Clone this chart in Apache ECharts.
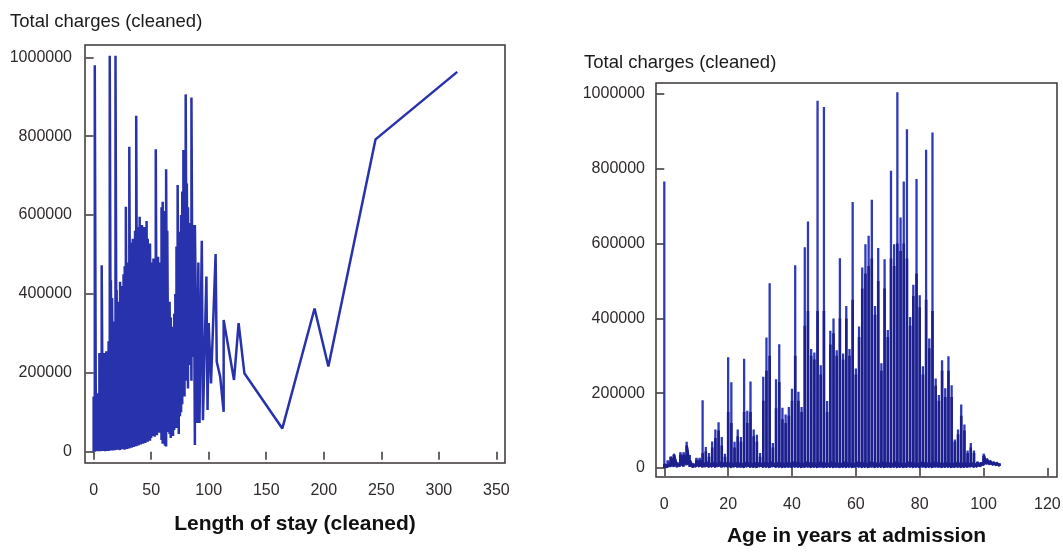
<!DOCTYPE html>
<html>
<head>
<meta charset="utf-8">
<script src="https://cdn.jsdelivr.net/npm/echarts@6/dist/echarts.min.js"></script>
<style>
  html, body { margin: 0; padding: 0; background: #ffffff; }
  #chart { width: 1063px; height: 552px; }
</style>
</head>
<body>
<div id="chart"></div>
<script>
// ---- Length of stay vs total charges: per-day low / high charges (days 0-88) ----
const stayDays = [0,1,2,3,4,5,6,7,8,9,10,11,12,13,14,15,16,17,18,19,20,21,22,23,24,25,26,27,28,29,
  30,31,32,33,34,35,36,37,38,39,40,41,42,43,44,45,46,47,48,49,50,51,52,53,54,55,56,57,58,59,
  60,61,62,63,64,65,66,67,68,69,70,71,72,73,74,75,76,77,78,79,80,81,82,83,84,85,86,87,88];
const stayHigh = [140000,980000,150000,148000,120000,250000,240000,473000,240000,250000,
  245000,255000,250000,280000,1004000,435000,390000,300000,330000,1004000,
  410000,350000,380000,431000,400000,420000,450000,470000,621000,480000,
  480000,773000,500000,530000,540000,520000,560000,852000,550000,570000,
  596000,560000,575000,540000,570000,555000,585000,540000,510000,528000,
  480000,470000,490000,460000,767000,450000,494000,440000,480000,620000,
  634000,600000,610000,716000,560000,376000,380000,340000,317000,300000,
  350000,400000,520000,676000,520000,558000,600000,660000,765000,700000,
  906000,680000,620000,580000,560000,898000,560000,575000,575000];
const stayLow = [0,0,1000,2000,1000,2000,1000,2000,3000,2000,
  1000,2000,3000,2000,3000,3000,4000,3000,5000,4000,
  6000,5000,7000,4000,8000,6000,9000,5000,10000,7000,
  12000,8000,14000,10000,16000,12000,18000,14000,20000,16000,
  22000,18000,25000,20000,28000,22000,30000,25000,32000,28000,
  35000,40000,45000,38000,50000,42000,55000,48000,60000,30000,
  20000,25000,15000,13000,50000,60000,45000,35000,50000,40000,
  55000,70000,60000,80000,45000,90000,100000,120000,150000,140000,
  180000,200000,160000,220000,250000,180000,270000,240000,17000];
// Long stays, in record order
const tailDays =    [90,91,92,94,95,98,99,100,102,106,107,110,113,113,122,126,131,164,192,204,245,316];
const tailCharges = [73000,480000,73000,535000,80000,444000,106000,326000,173000,501000,228000,190000,101000,334000,182000,326000,199000,59000,363000,216000,792000,963000];

// ---- Age at admission vs total charges ----
const ages = [0,1,2,3,4,5,6,7,8,9,10,11,12,13,14,15,16,17,18,19,20,21,22,23,24,25,26,27,28,29,
  30,31,32,33,34,35,36,37,38,39,40,41,42,43,44,45,46,47,48,49,50,51,52,53,54,55,56,57,58,59,
  60,61,62,63,64,65,66,67,68,69,70,71,72,73,74,75,76,77,78,79,80,81,82,83,84,85,86,87,88,89,
  90,91,92,93,94,95,96,97,98,99,100,101,102,103,104,105];
const ageMax = [766000,20000,30000,38000,15000,42000,42000,70000,35000,12000,
  27000,27000,181000,56000,40000,71000,103000,122000,83000,38000,
  296000,229000,70000,103000,83000,292000,153000,231000,103000,89000,
  40000,244000,349000,494000,67000,237000,331000,161000,143000,163000,
  212000,542000,204000,163000,590000,659000,318000,309000,982000,275000,
  965000,179000,367000,400000,315000,561000,306000,433000,318000,711000,
  266000,378000,536000,598000,621000,717000,433000,588000,280000,558000,
  369000,795000,598000,1005000,670000,766000,906000,404000,490000,773000,
  462000,272000,851000,346000,897000,239000,195000,288000,213000,299000,
  221000,76000,103000,170000,116000,47000,67000,47000,17000,10000,
  38000,25000,20000,17000,15000,13000];
const ageBulk = [10000,10000,20000,25000,10000,35000,35000,50000,20000,8000,
  20000,20000,40000,45000,30000,55000,80000,100000,60000,30000,
  150000,120000,55000,85000,70000,150000,120000,150000,85000,70000,
  30000,180000,260000,300000,55000,160000,230000,130000,120000,140000,
  180000,300000,180000,150000,380000,420000,300000,290000,420000,250000,
  420000,150000,330000,360000,300000,400000,290000,400000,300000,450000,
  250000,350000,480000,520000,540000,560000,410000,500000,260000,480000,
  350000,560000,540000,600000,580000,600000,560000,380000,460000,520000,
  430000,250000,450000,320000,420000,220000,180000,260000,190000,260000,
  190000,70000,90000,140000,100000,40000,55000,40000,14000,9000,
  32000,22000,18000,15000,13000,11000];
const ageLow = [0,2000,4000,3000,2000,5000,4000,8000,3000,1000,
  4000,3000,2000,3000,2000,3000,2000,4000,2000,3000,
  2000,1000,3000,2000,2000,1000,3000,2000,2000,1000,
  3000,2000,2000,1000,3000,2000,2000,1000,2000,2000,
  1000,2000,2000,1000,2000,2000,1000,2000,1000,2000,
  1000,2000,2000,1000,2000,1000,2000,1000,2000,1000,
  2000,2000,1000,2000,1000,2000,1000,2000,2000,1000,
  2000,1000,2000,1000,2000,1000,2000,2000,1000,2000,
  1000,2000,1000,2000,1000,2000,2000,1000,2000,2000,
  1000,2000,2000,1000,2000,2000,3000,2000,3000,4000,
  8000,10000,9000,8000,7000,6000];
const ageEnd = [8000,15000,30000,35000,10000,40000,40000,60000,20000,8000,
  25000,22000,15000,18000,14000,16000,14000,18000,15000,16000,
  15000,14000,16000,15000,14000,16000,15000,14000,16000,15000,
  14000,16000,15000,18000,14000,16000,15000,14000,16000,15000,
  18000,16000,15000,14000,18000,16000,15000,14000,18000,16000,
  15000,14000,18000,16000,15000,14000,18000,16000,15000,14000,
  18000,16000,15000,14000,18000,16000,15000,14000,18000,16000,
  15000,14000,18000,16000,15000,14000,18000,16000,15000,14000,
  18000,16000,15000,14000,18000,16000,15000,14000,16000,15000,
  14000,16000,15000,14000,16000,14000,15000,12000,12000,14000,
  34000,24000,19000,16000,14000,12000];

// Axis tick values
const chargeTicks = [0, 200000, 400000, 600000, 800000, 1000000];
const stayTicks = [0, 50, 100, 150, 200, 250, 300, 350];
const ageTicks = [0, 20, 40, 60, 80, 100, 120];

// Records in plot order: each day/age runs low -> high before moving on
const stayPoints = [];
stayDays.forEach((d, i) => { stayPoints.push([d, stayLow[i]], [d, stayHigh[i]]); });
tailDays.forEach((d, i) => { stayPoints.push([d, tailCharges[i]]); });

const agePoints = [];
const ageBulkPoints = [];
ages.forEach((a, i) => {
  agePoints.push([a, ageLow[i]], [a, ageMax[i]], [a, ageEnd[i]]);
  ageBulkPoints.push([a, ageLow[i]], [a, ageBulk[i]], [a, ageEnd[i]]);
});

const FONT = '"Liberation Sans", Arial, sans-serif';
const frameColor = '#3a3434';
const labelColor = '#2f2a2c';

function valueAxis(gridIndex, min, max, ticks, margin, extra) {
  return Object.assign({
    type: 'value', gridIndex, min, max,
    splitLine: { show: false },
    axisLine: { show: false },
    axisTick: { show: true, inside: false, length: 8, customValues: ticks,
      lineStyle: { color: frameColor, width: 1.5 } },
    axisLabel: { customValues: ticks, color: labelColor, fontFamily: FONT, fontSize: 16,
      margin: margin, formatter: v => String(Math.round(v)) }
  }, extra);
}

const chart = echarts.init(document.getElementById('chart'), null, { renderer: 'canvas' });
chart.setOption({
  animation: false,
  backgroundColor: '#ffffff',
  graphic: [
    { type: 'text', left: 10, top: 12,
      style: { text: 'Total charges (cleaned)', font: '18.5px ' + FONT, fill: '#1c1a1b' } },
    { type: 'text', left: 584, top: 53,
      style: { text: 'Total charges (cleaned)', font: '18.5px ' + FONT, fill: '#1c1a1b' } }
  ],
  grid: [
    { left: 85, top: 45, width: 420, height: 418, show: true, outerBoundsMode: 'none',
      borderColor: frameColor, borderWidth: 1.5, backgroundColor: 'transparent' },
    { left: 656, top: 83, width: 401, height: 394, show: true, outerBoundsMode: 'none',
      borderColor: frameColor, borderWidth: 1.5, backgroundColor: 'transparent' }
  ],
  xAxis: [
    valueAxis(0, -7.5, 357.5, stayTicks, 20, {
      name: 'Length of stay (cleaned)', nameLocation: 'middle', nameGap: 51,
      nameTextStyle: { fontFamily: FONT, fontSize: 21, fontWeight: 'bold', color: '#111' }
    }),
    valueAxis(1, -2.6, 123, ageTicks, 20, {
      name: 'Age in years at admission', nameLocation: 'middle', nameGap: 49,
      nameTextStyle: { fontFamily: FONT, fontSize: 21, fontWeight: 'bold', color: '#111' }
    })
  ],
  yAxis: [
    valueAxis(0, -28650, 1031200, chargeTicks, 13),
    valueAxis(1, -24100, 1029400, chargeTicks, 11)
  ],
  series: [
    { type: 'line', xAxisIndex: 0, yAxisIndex: 0, data: stayPoints,
      showSymbol: false, silent: true, lineStyle: { color: '#2832ad', width: 2.5 } },
    { type: 'line', xAxisIndex: 1, yAxisIndex: 1, data: agePoints,
      showSymbol: false, silent: true, lineStyle: { color: '#2e3ab8', width: 2.3 } },
    { type: 'line', xAxisIndex: 1, yAxisIndex: 1, data: ageBulkPoints,
      showSymbol: false, silent: true, lineStyle: { color: '#1c1f8c', width: 2.6 } }
  ]
});
</script>
</body>
</html>
